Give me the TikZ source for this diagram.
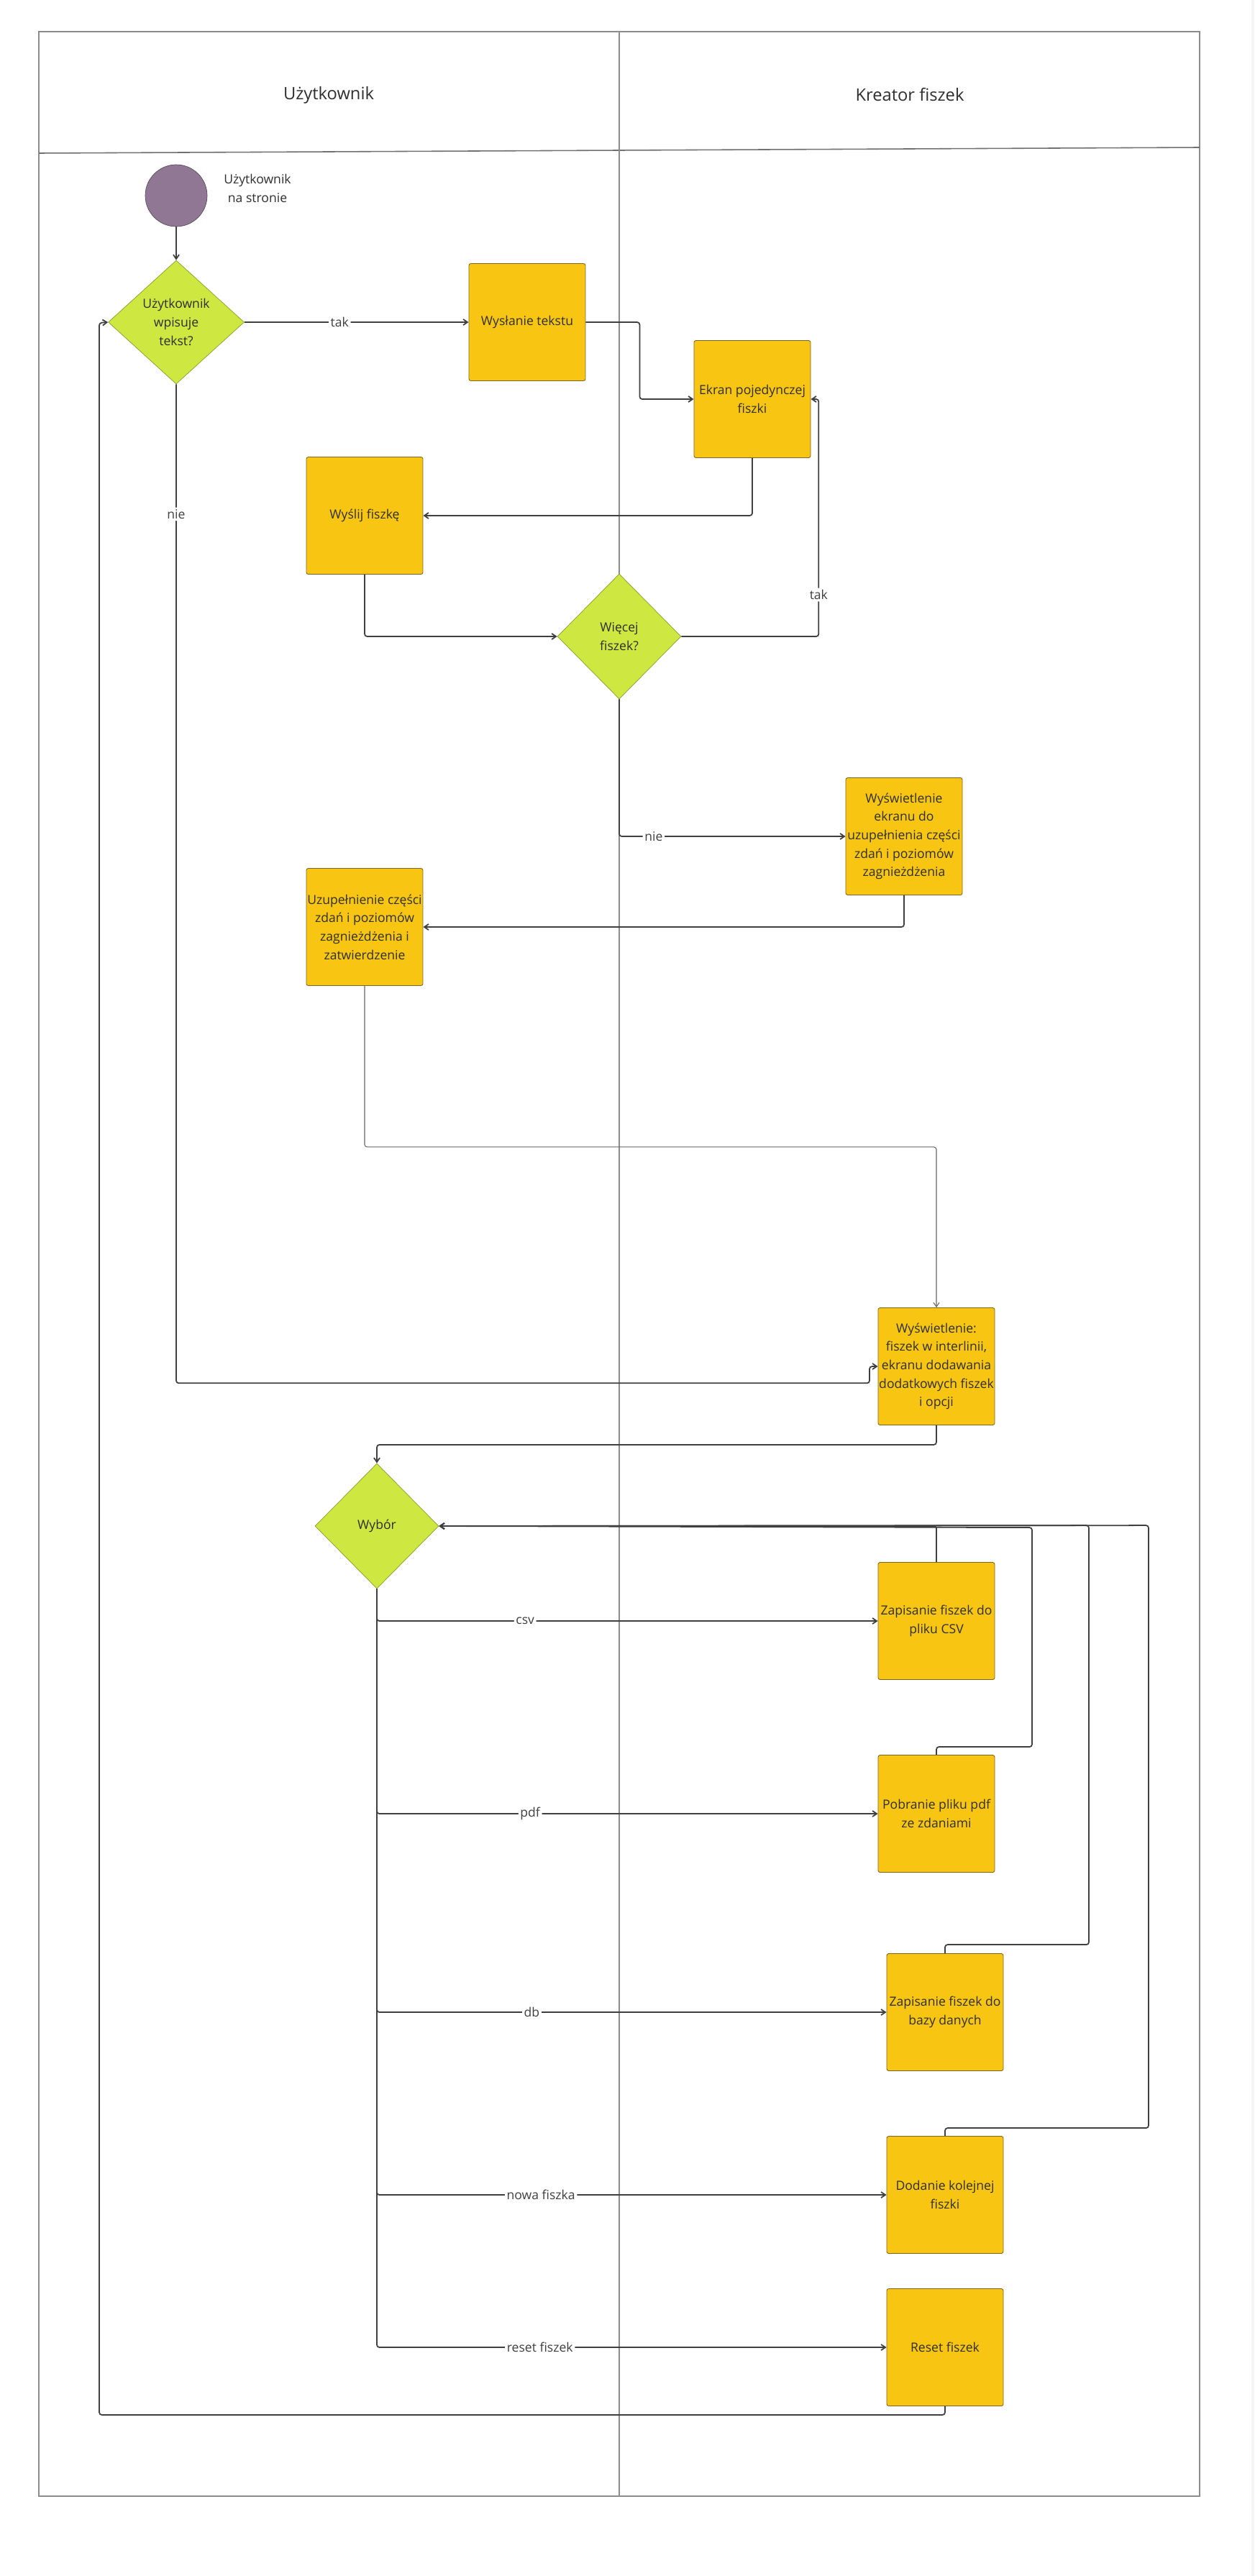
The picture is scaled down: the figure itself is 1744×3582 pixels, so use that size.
\documentclass[tikz,border=0pt]{standalone}
\usepackage{fontspec}
\setmainfont{Open Sans}
\usepackage{xcolor}
\usetikzlibrary{arrows.meta,positioning,shapes.geometric,calc}
\definecolor{boxfill}{HTML}{F8C612}
\definecolor{boxline}{HTML}{7A6524}
\definecolor{decfill}{HTML}{CEE741}
\definecolor{decline}{HTML}{8A9A2E}
\definecolor{startfill}{HTML}{907793}
\definecolor{startline}{HTML}{5B4A5E}
\definecolor{linec}{HTML}{3F3F3F}
\definecolor{framec}{HTML}{8C8C8C}
\definecolor{txt}{HTML}{2E2E2E}

\begin{document}
\begin{tikzpicture}[x=0.02cm,y=-0.02cm,
    every node/.style={font=\fontsize{10pt}{14.6pt}\selectfont,text=txt,align=center},
    proc/.style={rectangle,draw=boxline,line width=0.5pt,fill=boxfill,rounded corners=1.5pt,
      minimum width=3.24cm,minimum height=3.26cm,inner sep=0pt},
    dec/.style={diamond,draw=decline,line width=0.4pt,fill=decfill,inner sep=0pt,
      minimum width=3.44cm,minimum height=3.48cm},
    conn/.style={draw=linec,line width=1pt,rounded corners=2pt,-{Straight Barb[length=3.4pt,width=4.6pt]}},
    faint/.style={conn,draw=linec!80,line width=0.6pt},
    lbl/.style={fill=white,inner sep=1.5pt,text=linec}]
  \useasboundingbox (0,0) rectangle (1744,3582);
  \fill[gray!8] (1740,0) rectangle (1744,3582);
  % swimlanes
  \draw[framec,line width=1pt] (54,44) rectangle (1668,3471);
  \draw[framec!80!black,line width=0.9pt] (54,213) -- (1668,205);
  \draw[framec,line width=0.6pt] (861,44) -- (861,3471);
  \node[font=\fontsize{13.5pt}{16pt}\selectfont] (laneU) at (457,132) {Użytkownik};
  \node[font=\fontsize{13.5pt}{16pt}\selectfont] (laneK) at (1265,132) {Kreator fiszek};

  \node (start) [circle,draw=startline,fill=startfill,minimum size=1.72cm,inner sep=0pt] at (245,272) {};
  \node (startLbl) at (358,262) {Użytkownik\\na stronie};
  \node (wpisuje) [dec,minimum width=3.78cm,minimum height=3.44cm] at (245,448) {Użytkownik\\wpisuje\\tekst?};
  \node (wyslanie) [proc] at (733,448) {Wysłanie tekstu};
  \node (ekran) [proc] at (1046,555) {Ekran pojedynczej\\fiszki};
  \node (wyslij) [proc] at (507,717) {Wyślij fiszkę};
  \node (wiecej) [dec] at (861,885) {Więcej\\fiszek?};
  \node (uzupEkran) [proc] at (1257,1163) {Wyświetlenie\\ekranu do\\uzupełnienia części\\zdań i poziomów\\zagnieżdżenia};
  \node (uzup) [proc] at (507,1289) {Uzupełnienie części\\zdań i poziomów\\zagnieżdżenia i\\zatwierdzenie};
  \node (widok) [proc] at (1302,1900) {Wyświetlenie:\\fiszek w interlinii,\\ekranu dodawania\\dodatkowych fiszek\\i opcji};
  \node (wybor) [dec] at (524,2122) {Wybór};
  \node (csv) [proc] at (1302,2254) {Zapisanie fiszek do\\pliku CSV};
  \node (pdf) [proc] at (1302,2522) {Pobranie pliku pdf\\ze zdaniami};
  \node (db) [proc] at (1314,2798) {Zapisanie fiszek do\\bazy danych};
  \node (nowa) [proc] at (1314,3052) {Dodanie kolejnej\\fiszki};
  \node (reset) [proc] at (1314,3264) {Reset fiszek};

  \draw[conn] (start) -- (wpisuje);
  \draw[conn] (wpisuje) -- node[lbl,pos=0.425] {tak} (wyslanie);
  \draw[conn] (wyslanie.east) -- ++(75,0) |- (ekran.west);
  \draw[conn] (ekran.south) |- (wyslij.east);
  \draw[conn] (wyslij.south) |- (wiecej.west);
  \draw[conn] (wiecej.east) -- ++(191,0) -- node[lbl,pos=0.176] {tak} ++(0,-330) -- (ekran.east);
  \draw[conn] (wiecej.south) |- node[lbl,pos=0.576] {nie} (uzupEkran.west);
  \draw[conn] (uzupEkran.south) |- (uzup.east);
  \draw[faint] (uzup.south) -- ++(0,224) -| (widok.north);
  \draw[conn] (wpisuje.south) -- node[lbl,pos=0.13] {nie} ++(0,1389) -- ++(964,0) |- (widok.west);
  \draw[conn] (widok.south) -- ++(0,27) -| (wybor.north);
  % options of the choice
  \draw[conn] (wybor.south) |- node[lbl,pos=0.648] {csv} (csv.west);
  \draw[conn] (wybor.south) |- node[lbl,pos=0.653] {pdf} (pdf.west);
  \draw[conn] (wybor.south) |- node[lbl,pos=0.652] {db} (db.west);
  \draw[conn] (wybor.south) |- node[lbl,pos=0.661] {nowa fiszka} (nowa.west);
  \draw[conn] (wybor.south) |- node[lbl,pos=0.660] {reset fiszek} (reset.west);
  \draw[conn] (csv.north) |- (wybor.east);
  \draw[conn] (pdf.north) -- ++(0,-11) -| ++(133,-305) -- (wybor.east);
  \draw[conn] (db.north) -- ++(0,-12) -| ++(200,-583) -- (wybor.east);
  \draw[conn] (nowa.north) -- ++(0,-11) -| ++(283,-838) -- (wybor.east);
  \draw[conn] (reset.south) -- ++(0,12) -| ++(-1176,-2909) -- (wpisuje.west);
\end{tikzpicture}
\end{document}
